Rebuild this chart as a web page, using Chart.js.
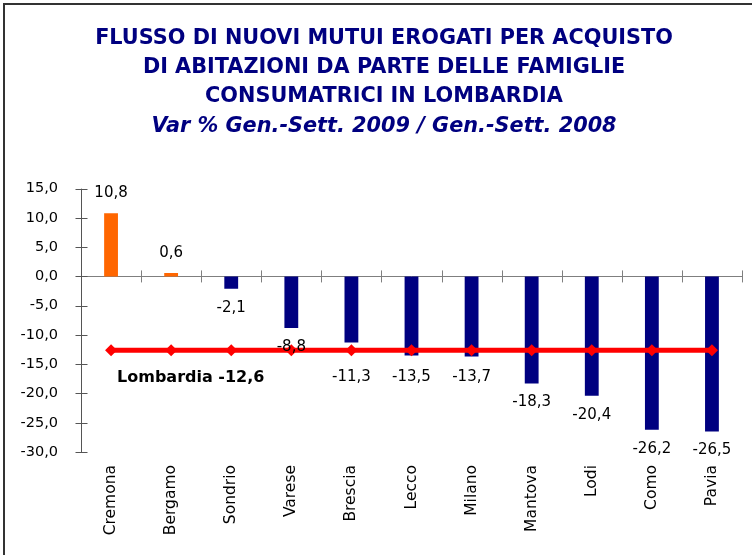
<!DOCTYPE html>
<html>
<head>
<meta charset="utf-8">
<script src="https://cdn.jsdelivr.net/npm/chart.js@4"></script>
<style>
  html, body { margin: 0; padding: 0; background: #fff; overflow: hidden; }
  #wrap { position: relative; width: 752px; height: 555px; overflow: hidden; }
  #frame { position: absolute; left: 3px; top: 3px; width: 800px; height: 600px;
           border-left: 2px solid #333; border-top: 2px solid #333; }
  canvas { position: absolute; left: 0; top: 0; }
</style>
</head>
<body>
<div id="wrap">
  <div id="frame"></div>
  <canvas id="chart" width="752" height="555"></canvas>
</div>
<script>
const provinces = ['Cremona', 'Bergamo', 'Sondrio', 'Varese', 'Brescia', 'Lecco',
  'Milano', 'Mantova', 'Lodi', 'Como', 'Pavia'];
const varPct = [10.8, 0.6, -2.1, -8.8, -11.3, -13.5, -13.7, -18.3, -20.4, -26.2, -26.5];
const lombardia = -12.6;
const lombardiaLine = provinces.map(() => lombardia);
const yTicks = [15, 10, 5, 0, -5, -10, -15, -20, -25, -30];

const FONT = "Tahoma, 'DejaVu Sans', sans-serif";
const fmt = (v) => v.toFixed(1).replace('.', ',');

// axis line at zero with crossing ticks, plus y axis with crossing ticks
const axisDecor = {
  id: 'axisDecor',
  beforeDatasetsDraw(chart) {
    const { ctx, chartArea, scales } = chart;
    const x = scales.x, y = scales.y;
    const y0 = y.getPixelForValue(0);
    const step = (chartArea.right - chartArea.left) / provinces.length;
    ctx.save();
    ctx.strokeStyle = '#7f7f7f';
    ctx.lineWidth = 1;
    ctx.beginPath();
    ctx.moveTo(chartArea.left, Math.round(y0) + 0.5);
    ctx.lineTo(chartArea.right, Math.round(y0) + 0.5);
    for (let i = 0; i <= provinces.length; i++) {
      const px = Math.round(x.getPixelForValue(0) - step / 2 + i * step) + 0.5;
      ctx.moveTo(px, y0 - 6);
      ctx.lineTo(px, y0 + 6);
    }
    ctx.stroke();
    ctx.strokeStyle = '#555';
    ctx.beginPath();
    const ax = Math.round(chartArea.left) + 0.5;
    ctx.moveTo(ax, y.getPixelForValue(15));
    ctx.lineTo(ax, y.getPixelForValue(-30));
    yTicks.forEach((t) => {
      const py = Math.round(y.getPixelForValue(t)) + 0.5;
      ctx.moveTo(ax - 6, py);
      ctx.lineTo(ax + 6, py);
    });
    ctx.stroke();
    ctx.restore();
  },
  afterDatasetsDraw(chart) {
    const { ctx, scales } = chart;
    const y = scales.y;
    const lineY = y.getPixelForValue(lombardia);
    ctx.save();
    ctx.fillStyle = '#000';
    ctx.font = "15px " + FONT;
    ctx.textAlign = 'center';
    ctx.textBaseline = 'middle';
    chart.getDatasetMeta(0).data.forEach((bar, i) => {
      const v = varPct[i];
      let ty;
      if (v >= 0) {
        ty = bar.y - 20;
      } else {
        ty = bar.y + 19;
        if (Math.abs(bar.y - lineY) < 10) ty = lineY + 27;
      }
      ctx.fillText(fmt(v), bar.x, ty);
    });
    // Lombardia label
    const xs = scales.x;
    ctx.font = "bold 16px " + FONT;
    ctx.textAlign = 'left';
    ctx.fillText('Lombardia ' + fmt(lombardia), xs.getPixelForValue(0) + 6, lineY + 28);
    ctx.restore();
  }
};

new Chart(document.getElementById('chart'), {
  data: {
    labels: provinces,
    datasets: [
      {
        type: 'bar',
        data: varPct,
        backgroundColor: varPct.map((v) => (v >= 0 ? '#ff6600' : '#000080')),
        borderWidth: 0,
        barPercentage: 0.23,
        categoryPercentage: 1,
        order: 2
      },
      {
        type: 'line',
        data: lombardiaLine,
        borderColor: '#ff0000',
        backgroundColor: '#ff0000',
        borderWidth: 5,
        pointStyle: 'rectRot',
        pointRadius: 6,
        pointBorderWidth: 0,
        fill: false,
        order: 1
      }
    ]
  },
  options: {
    responsive: false,
    animation: false,
    layout: { padding: { left: 16, right: 0, top: 0, bottom: 0 } },
    plugins: {
      legend: { display: false },
      tooltip: { enabled: false },
      title: {
        display: true,
        text: ['FLUSSO DI NUOVI MUTUI EROGATI PER ACQUISTO',
               'DI ABITAZIONI DA PARTE DELLE FAMIGLIE',
               'CONSUMATRICI IN LOMBARDIA'],
        color: '#000080',
        font: { family: FONT, size: 20.8, weight: 'bold', lineHeight: 1.39 },
        padding: { top: 24, bottom: 0 }
      },
      subtitle: {
        display: true,
        text: 'Var % Gen.-Sett. 2009 / Gen.-Sett. 2008',
        color: '#000080',
        font: { family: FONT, size: 20.8, weight: 'bold', style: 'italic', lineHeight: 1.39 },
        padding: { top: 1, bottom: 48 }
      }
    },
    scales: {
      x: {
        grid: { display: false, drawTicks: false },
        border: { display: false },
        ticks: {
          color: '#000',
          font: { family: FONT, size: 15.5 },
          minRotation: 90,
          maxRotation: 90,
          padding: 13
        },
        afterFit(scale) { scale.height = 103; }
      },
      y: {
        min: -30,
        max: 15,
        grid: { display: false, drawTicks: false },
        border: { display: false },
        ticks: {
          stepSize: 5,
          color: '#000',
          font: { family: FONT, size: 14.5 },
          padding: 23,
          callback: (v) => fmt(v)
        },
        afterFit(scale) { scale.width = 65; }
      },
      // empty spacer on the right so the plot ends where the original does
      yRight: {
        position: 'right',
        min: -30,
        max: 15,
        grid: { display: false, drawTicks: false },
        border: { display: false },
        ticks: { display: false },
        afterFit(scale) { scale.width = 10; }
      }
    }
  },
  plugins: [axisDecor]
});
</script>
</body>
</html>
